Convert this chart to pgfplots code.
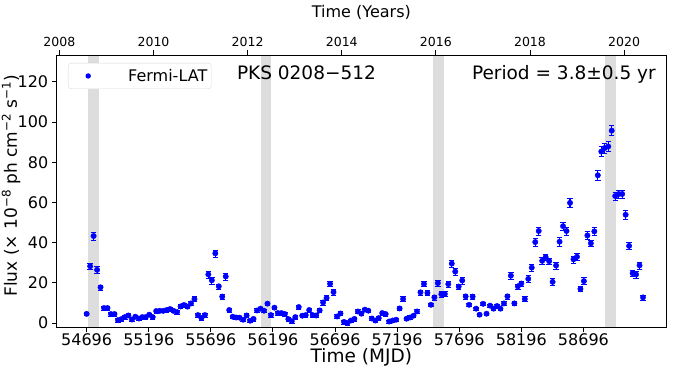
\documentclass[border=0pt]{standalone}
\usepackage{pgfplots}
\pgfplotsset{compat=1.18}
\usepackage{pgfplotstable}
\usepackage{fontspec}
\setmainfont{DejaVu Sans}
\definecolor{band}{RGB}{221,221,221}
\definecolor{pts}{RGB}{0,0,255}

% 28-day binned light curve, flux in 1e-8 ph cm-2 s-1
\pgfplotstableread{
mjd flux err
54696 4.6 0.9
54724 28.3 1.7
54752 43.3 2.1
54780 26.5 1.7
54808 17.8 1.3
54836 7.5 0.9
54864 7.5 0.9
54892 4.5 0.9
54920 4.5 0.9
54948 1.5 0.9
54976 2.0 0.9
55004 3.0 0.9
55032 3.8 0.9
55060 1.8 0.9
55088 3.2 0.9
55116 2.3 0.9
55144 3.0 0.9
55172 3.0 0.9
55200 4.2 0.9
55228 3.0 0.9
55256 6.0 0.9
55284 6.1 0.9
55312 6.1 0.9
55340 6.5 0.9
55368 7.0 0.9
55396 6.1 0.9
55424 5.5 0.9
55452 8.3 0.9
55480 9.0 0.9
55508 8.2 0.9
55536 9.8 0.9
55564 12.0 1.3
55592 4.0 0.9
55620 2.5 0.9
55648 4.0 0.9
55676 24.2 1.7
55704 21.3 1.7
55732 34.7 1.7
55760 18.3 1.3
55788 13.2 1.3
55816 23.2 1.7
55844 6.5 0.9
55872 3.2 0.9
55900 2.8 0.9
55928 2.7 0.9
55956 1.7 0.9
55984 3.8 0.9
56012 1.2 0.9
56040 2.1 0.9
56068 6.3 0.9
56096 7.2 0.9
56124 6.2 0.9
56152 9.7 0.9
56180 4.0 0.9
56208 7.7 0.9
56236 5.0 0.9
56264 5.0 0.9
56292 4.5 0.9
56320 2.0 0.9
56348 1.0 0.9
56376 3.0 0.9
56404 8.0 0.9
56432 3.7 0.9
56460 4.0 0.9
56488 6.5 0.9
56516 4.0 0.9
56544 3.8 0.9
56572 6.3 0.9
56600 10.3 1.3
56628 12.5 1.3
56656 19.6 1.3
56684 15.4 1.3
56712 3.3 0.9
56740 4.8 0.9
56768 0.6 0.9
56796 0.0 0.9
56824 1.3 0.9
56852 2.1 0.9
56880 5.8 0.9
56908 4.7 0.9
56936 6.7 0.9
56964 6.2 0.9
56992 2.3 0.9
57020 1.3 0.9
57048 2.5 0.9
57076 5.0 0.9
57104 4.5 0.9
57132 0.8 0.9
57160 1.3 0.9
57188 1.7 0.9
57216 7.3 0.9
57244 12.0 1.3
57272 2.2 0.9
57300 2.8 0.9
57328 3.7 0.9
57356 5.8 0.9
57384 15.3 1.3
57412 19.5 1.3
57440 15.0 1.3
57468 9.1 0.9
57496 12.8 1.3
57524 19.9 1.3
57552 14.4 1.3
57580 14.5 1.3
57608 19.4 1.3
57636 29.6 1.7
57664 25.6 1.7
57692 18.2 1.3
57720 21.2 1.7
57748 13.3 1.3
57776 9.1 0.9
57804 13.2 1.3
57832 7.2 0.9
57860 4.2 0.9
57888 9.6 0.9
57916 4.7 0.9
57944 8.7 0.9
57972 7.2 0.9
58000 8.5 0.9
58028 7.2 0.9
58056 9.8 0.9
58084 13.3 1.3
58112 23.6 1.7
58140 9.8 0.9
58168 18.3 1.3
58196 19.7 1.3
58224 12.0 1.3
58252 22.0 1.7
58280 27.6 1.7
58308 40.3 2.1
58336 45.8 2.1
58364 31.0 1.7
58392 32.8 1.7
58420 30.8 1.7
58448 20.5 1.7
58476 28.6 1.7
58504 40.5 2.1
58532 48.2 2.1
58560 45.8 2.1
58588 59.8 2.1
58616 31.7 1.7
58644 33.0 1.7
58672 17.0 1.3
58700 20.9 1.7
58728 43.6 2.1
58756 39.7 1.7
58784 45.6 2.1
58812 73.5 2.5
58840 85.3 2.5
58868 87.1 2.5
58896 87.8 2.5
58924 95.7 2.5
58952 63.2 2.1
58980 64.2 2.1
59008 64.2 2.1
59036 53.9 2.1
59064 38.4 1.7
59092 24.8 1.7
59120 24.2 1.7
59148 28.7 1.7
59176 12.8 1.3
}\fermi

\begin{document}
\begin{tikzpicture}
\begin{axis}[
  scale only axis, width=609pt, height=272pt,
  xmin=54455, xmax=59361, ymin=-2, ymax=133.3,
  axis on top, clip=true,
  axis line style={line width=0.9pt},
  scaled x ticks=false,
  xtick={54696,55196,55696,56196,56696,57196,57696,58196,58696},
  xticklabels={54696,55196,55696,56196,56696,57196,57696,58196,58696},
  xtick pos=lower, ytick pos=left,
  ytick={0,20,40,60,80,100,120},
  tick align=outside, major tick length=5pt,
  every tick/.style={black, line width=0.9pt},
  /pgf/number format/assume math mode=true,
  ticklabel style={font=\fontsize{16}{18}\selectfont},
  xticklabel style={yshift=2pt},
  xlabel={Time (MJD)},
  xlabel style={font=\fontsize{18.5}{20}\selectfont, at={(axis description cs:0.5,-0.112)}, anchor=center},
  ylabel={Flux (× 10\textsuperscript{−8} ph cm\textsuperscript{−2} s\textsuperscript{−1})},
  ylabel style={font=\fontsize{17}{19}\selectfont, at={(axis description cs:-0.075,0.52)}, anchor=center},
  legend style={at={(axis description cs:0.0185,0.971)}, anchor=north west,
    draw=black!15, rounded corners=3pt, font=\fontsize{16}{18}\selectfont,
    inner xsep=2pt, inner ysep=4pt},
  legend cell align=left,
  legend image code/.code={%
    \path[draw=none, fill=none] (0pt,0pt) -- (56pt,0pt);
    \fill[pts, draw=none] (18pt,0pt) circle (2.7pt);},
]
\addplot[fill=band, draw=none, forget plot] coordinates {(54710,-10) (54710,150) (54798,150) (54798,-10)} -- cycle;
\addplot[fill=band, draw=none, forget plot] coordinates {(56096,-10) (56096,150) (56182,150) (56182,-10)} -- cycle;
\addplot[fill=band, draw=none, forget plot] coordinates {(57482,-10) (57482,150) (57570,150) (57570,-10)} -- cycle;
\addplot[fill=band, draw=none, forget plot] coordinates {(58868,-10) (58868,150) (58955,150) (58955,-10)} -- cycle;

\addplot[only marks, mark=*, mark size=2.7pt, color=pts,
  error bars/.cd, y dir=both, y explicit,
  error bar style={line width=1.1pt, color=pts}]
  table[x=mjd, y=flux, y error=err] {\fermi};
\addlegendentry{Fermi-LAT}

\node[anchor=base west, inner sep=0, font=\fontsize{18.5}{20}\selectfont] at (axis description cs:0.2956,0.910) {PKS 0208−512};
\node[anchor=base east, inner sep=0, font=\fontsize{18.5}{20}\selectfont] at (axis description cs:0.9836,0.910) {Period = 3.8±0.5 yr};
\coordinate (sw) at (rel axis cs:0,0);
\coordinate (ne) at (rel axis cs:1,1);
\end{axis}

\begin{axis}[
  scale only axis, width=609pt, height=272pt,
  xmin=2007.943, xmax=2020.89, ymin=0, ymax=1,
  axis x line*=top, hide y axis,
  axis line style={line width=0.9pt},
  xtick={2008,2010,2012,2014,2016,2018,2020},
  tick align=outside, major tick length=5pt,
  every tick/.style={black, line width=0.9pt},
  /pgf/number format/assume math mode=true,
  /pgf/number format/1000 sep={},
  ticklabel style={font=\fontsize{12.5}{14}\selectfont},
  xlabel={Time (Years)},
  xlabel style={font=\fontsize{16}{18}\selectfont, at={(axis description cs:0.5,1.158)}, anchor=center},
]
\end{axis}

\path (sw) ++(-56.7pt,-42.7pt) coordinate (bl);
\path (ne) ++(10pt,55pt) coordinate (tr);
\pgfresetboundingbox
\useasboundingbox (bl) rectangle (tr);
\end{tikzpicture}
\end{document}
